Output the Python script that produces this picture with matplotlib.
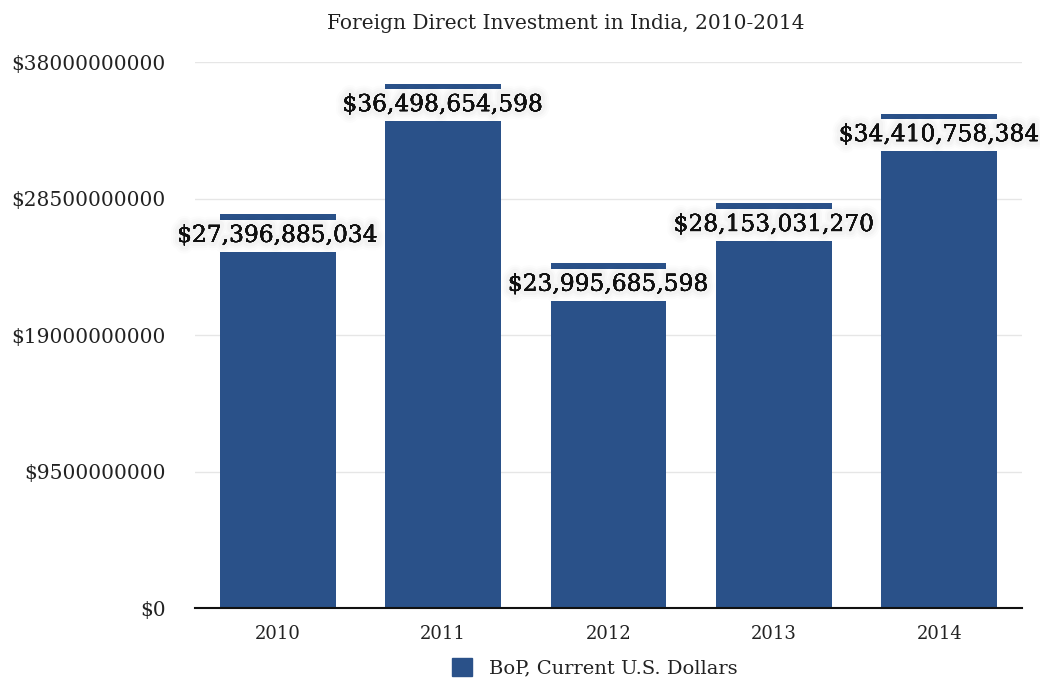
import matplotlib
matplotlib.use("Agg")
import matplotlib.pyplot as plt
import matplotlib.patheffects as pe
from matplotlib.patches import Patch

years = ["2010", "2011", "2012", "2013", "2014"]
values = [27396885034, 36498654598, 23995685598, 28153031270, 34410758384]
yticks = [0, 9500000000, 19000000000, 28500000000, 38000000000]
title = "Foreign Direct Investment in India, 2010-2014"
series_name = "BoP, Current U.S. Dollars"
bar_color = "#2a5189"

plt.rcParams['font.family'] = ['DejaVu Serif']

fig = plt.figure(figsize=(10.4, 6.83), dpi=100)
ax = fig.add_axes([0.1875, 0.1098, 0.7952, 0.7994])

x = list(range(len(years)))
bars = ax.bar(x, values, width=0.70, color=bar_color, zorder=2)

ax.set_xlim(-0.5, len(years) - 0.5)
ax.set_ylim(0, 38000000000)
ax.set_yticks(yticks)
ax.set_yticklabels(["$" + str(v) for v in yticks], fontsize=14.5, color="#222222")
ax.set_xticks(x)
ax.set_xticklabels(years, fontsize=13, color="#222222")
ax.tick_params(length=0, pad=12)
ax.tick_params(axis='y', pad=21)
ax.grid(axis='y', color="#e6e6e6", linewidth=1, zorder=0)
for s in ["top", "right", "left"]:
    ax.spines[s].set_visible(False)
ax.spines["bottom"].set_color("#111111")
ax.spines["bottom"].set_linewidth(1.5)
ax.spines["bottom"].set_zorder(3)

fig.text(0.544, 0.966, title, ha="center", va="center", fontsize=14.5, color="#222222")

glow = [pe.withStroke(linewidth=lw, foreground=(0, 0, 0, a))
        for lw, a in [(12, 0.012), (9, 0.015), (6, 0.02)]] + [pe.Normal()]

for xi, v in zip(x, values):
    lbl = "${:,}".format(v)
    t = ax.annotate(lbl, (xi, v), xytext=(0, -15.5), textcoords="offset points",
                    ha="center", va="center", fontsize=16.8, color="#111111", zorder=5,
                    bbox=dict(boxstyle="square,pad=0.21", fc="white", ec="none"))
    t.set_path_effects(glow)

leg = fig.legend(handles=[Patch(color=bar_color)], labels=[series_name],
                 loc="center", bbox_to_anchor=(0.572, 0.022), frameon=False,
                 fontsize=14, handlelength=1.0, handleheight=1.0, handletextpad=0.9)
for txt in leg.get_texts():
    txt.set_color("#222222")

fig.savefig("out.png", dpi=100)
